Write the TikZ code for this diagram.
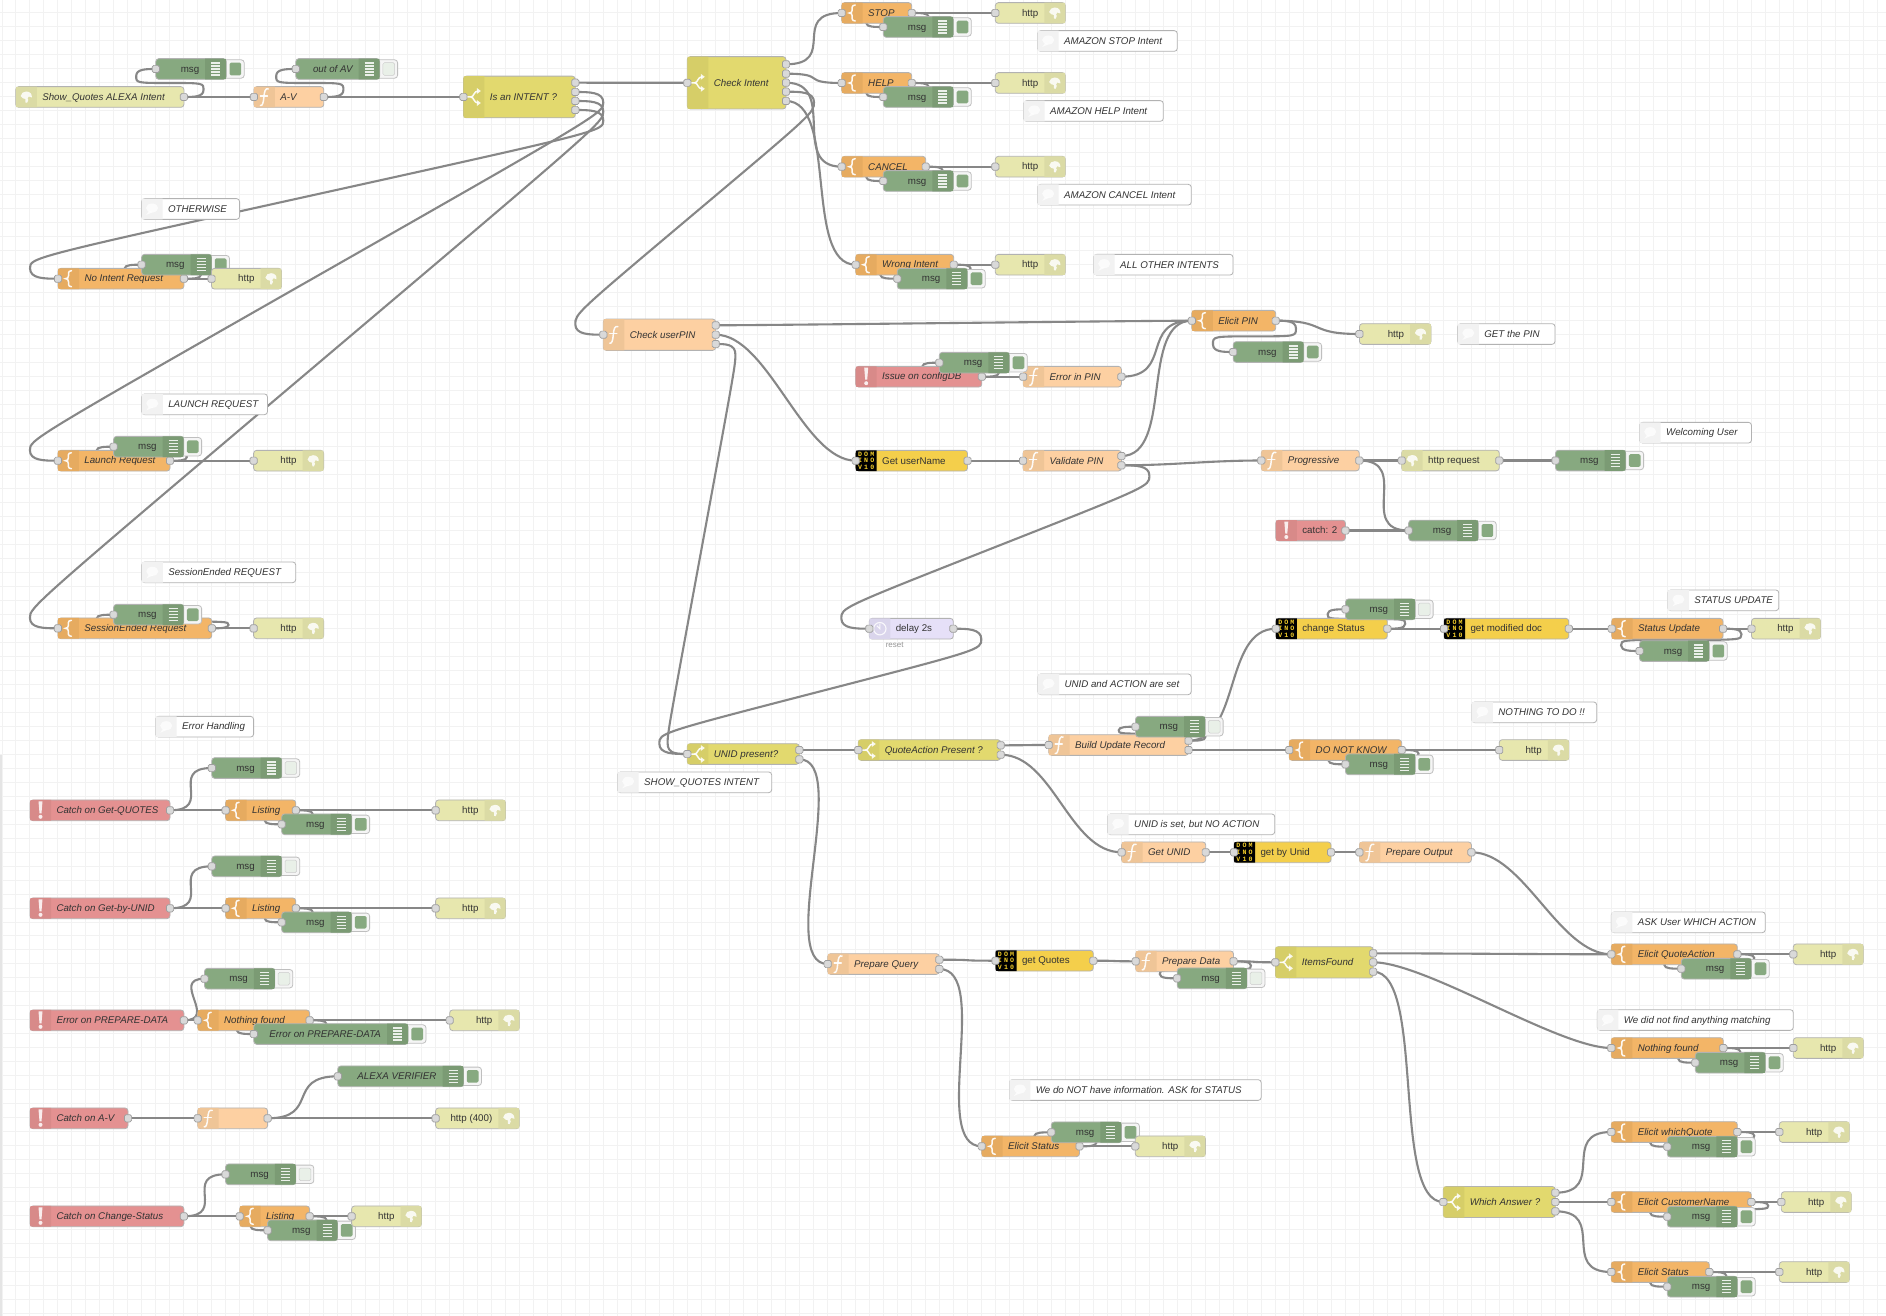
\documentclass[tikz,border=0pt]{standalone}
\usepackage{fontspec}
\setmainfont{Liberation Sans}
\newfontfamily\nrmono{Liberation Mono}
\pgfdeclarelayer{gridl}\pgfdeclarelayer{wirel}\pgfsetlayers{gridl,wirel,main}
\definecolor{cText}{HTML}{333333}
\definecolor{cWire}{HTML}{878787}
\definecolor{cPort}{HTML}{D9D9D9}
\tikzset{
  nrbody/.style={draw=black!30,rounded corners=3pt,line width=.8pt,inner sep=0pt,outer sep=0pt,text=cText,
     font=\fontsize{9.75}{12}\selectfont,anchor=center},
  port/.style={draw=black!38,fill=cPort,rounded corners=1.6pt,line width=.7pt,minimum width=7.2pt,minimum height=7.2pt,inner sep=0pt,outer sep=0pt},
  wire/.style={draw=cWire,line width=2.1pt,line cap=round},
  gridline/.style={draw=black!5,line width=1pt},
  iconline/.style={draw=white,line width=1.5pt,line cap=round,opacity=.92},
  iconfill/.style={fill=white,opacity=.85},
  btnbox/.style={draw=black!25,fill=black!4,rounded corners=3pt,line width=.8pt},
}
\newcommand\setkind[6]{%
  \tikzset{k#1/.style={fill=#2}}%
  \expandafter\def\csname st#1\endcsname{#3}%
  \expandafter\def\csname sd#1\endcsname{#4}%
  \expandafter\def\csname hi#1\endcsname{#5}%
  \expandafter\def\csname bt#1\endcsname{#6}}
\definecolor{fnA}{HTML}{FDD0A2}\definecolor{fnB}{HTML}{EFC597}
\definecolor{tpA}{HTML}{F3B567}\definecolor{tpB}{HTML}{E6AB60}
\definecolor{htA}{HTML}{E7E7AE}\definecolor{htB}{HTML}{DBDBA5}
\definecolor{dbA}{HTML}{87A980}\definecolor{dbB}{HTML}{7B9B74}
\definecolor{swA}{HTML}{E2D96E}\definecolor{swB}{HTML}{D6CE68}
\definecolor{caA}{HTML}{E49191}\definecolor{caB}{HTML}{D88A89}
\definecolor{coA}{HTML}{FFFFFF}\definecolor{coB}{HTML}{F2F2F2}
\definecolor{deA}{HTML}{E6E0F8}\definecolor{deB}{HTML}{DAD5EC}
\definecolor{doA}{HTML}{F4CF4B}\definecolor{doY}{HTML}{F6D02A}
\setkind{fn}{fnA}{fnB}{L}{1}{0}
\setkind{tp}{tpA}{tpB}{L}{1}{0}
\setkind{sw}{swA}{swB}{L}{1}{0}
\setkind{ht}{htA}{htB}{R}{1}{0}
\setkind{hi}{htA}{htB}{L}{0}{0}
\setkind{rq}{htA}{htB}{L}{1}{0}
\setkind{db}{dbA}{dbB}{R}{1}{1}
\setkind{do}{dbA}{dbB}{R}{1}{2}
\setkind{ca}{caA}{caB}{L}{0}{0}
\setkind{no}{coA}{coB}{L}{0}{0}
\setkind{dl}{deA}{deB}{L}{1}{0}
\setkind{dm}{doA}{black}{L}{1}{0}
% ---- icons: x0, x1, cy
\newcommand\icfn[3]{\pgfmathsetmacro\nrc{#1+10.5}%
  \draw[iconline] (\nrc+4,#3-8) .. controls (\nrc+1,#3-9) and (\nrc,#3-6) .. (\nrc-.5,#3) .. controls (\nrc-1,#3+6) and (\nrc-2,#3+9) .. (\nrc-4,#3+8.5);
  \draw[iconline] (\nrc-4,#3-1) -- (\nrc+3,#3-1);}
\newcommand\ictp[3]{\pgfmathsetmacro\nrc{#1+10.5}%
  \draw[iconline] (\nrc+3,#3-8) .. controls (\nrc-1,#3-8) and (\nrc,#3-4) .. (\nrc,#3-3) .. controls (\nrc,#3-1) and (\nrc-1,#3) .. (\nrc-3,#3) .. controls (\nrc-1,#3) and (\nrc,#3+1) .. (\nrc,#3+3) .. controls (\nrc,#3+4) and (\nrc-1,#3+8) .. (\nrc+3,#3+8);}
\newcommand\icsw[3]{\pgfmathsetmacro\nrc{#1+10.5}%
  \draw[iconline] (\nrc-7,#3) -- (\nrc-3,#3) .. controls (\nrc,#3) and (\nrc,#3-6) .. (\nrc+4,#3-6);
  \draw[iconline] (\nrc-3,#3) .. controls (\nrc,#3) and (\nrc,#3+6) .. (\nrc+4,#3+6);
  \fill[iconfill] (\nrc+3,#3-9) -- (\nrc+7,#3-6) -- (\nrc+3,#3-3) -- cycle;
  \fill[iconfill] (\nrc+3,#3+9) -- (\nrc+7,#3+6) -- (\nrc+3,#3+3) -- cycle;}
\newcommand\icca[3]{\pgfmathsetmacro\nrc{#1+10.5}%
  \fill[iconfill] (\nrc-2,#3-9) -- (\nrc+2,#3-9) -- (\nrc+1,#3+3) -- (\nrc-1,#3+3) -- cycle;
  \fill[iconfill] (\nrc,#3+6.5) circle (2);}
\newcommand\icglobe[2]{%
  \fill[iconfill] (#1,#2-5.5) .. controls (#1+4,#2-5.5) and (#1+6,#2-2.5) .. (#1+5.5,#2+.5)
     -- (#1+2.5,#2-.5) -- (#1+1.2,#2+1.5) -- (#1+2,#2+3) -- (#1+.8,#2+5.8) -- (#1-.8,#2+5.5) -- (#1-1,#2+2) -- (#1-3.5,#2+1.2)
     -- (#1-5.6,#2-1) .. controls (#1-5,#2-4) and (#1-3,#2-5.5) .. cycle;}
\newcommand\icht[3]{\pgfmathsetmacro\nrc{#2-10.5}\icglobe{\nrc}{#3}}
\newcommand\ichi[3]{\pgfmathsetmacro\nrc{#1+10.5}\icglobe{\nrc}{#3}}
\newcommand\icrq[3]{\pgfmathsetmacro\nrc{#1+10.5}\icglobe{\nrc}{#3}}
\newcommand\icdb[3]{\pgfmathsetmacro\nrc{#2-10.5}%
  \foreach \nroff in {-6,-3,0,3,6} {\draw[white,line width=1.3pt,opacity=.85] (\nrc-4.5,#3+\nroff) -- (\nrc+4.5,#3+\nroff);}}
\let\icdo\icdb
\newcommand\icno[3]{\pgfmathsetmacro\nrc{#1+10.5}%
  \fill[white,opacity=.75] (\nrc,#3-1) ellipse (6 and 4.5);
  \fill[white,opacity=.75] (\nrc-3,#3+2) -- (\nrc-6,#3+6) -- (\nrc+1,#3+3) -- cycle;}
\newcommand\icdl[3]{\pgfmathsetmacro\nrc{#1+10.5}%
  \draw[white,line width=1.1pt,opacity=.85] (\nrc,#3) circle (6.2);
  \draw[white,line width=1.1pt,opacity=.85] (\nrc-3,#3-3) -- (\nrc,#3) -- (\nrc,#3-5);}
\newcommand\nrdomrow[3]{#1\kern2.1pt #2\kern2.1pt #3}
\newcommand\icdm[3]{\relax}
% ---- the node macro: id, kind, x0, x1, cy, label, height, outputs
\newcommand\NM[8]{%
  \pgfmathsetmacro\nrw{#4-#3}%
  \pgfmathsetmacro\nrcx{(#3+#4)/2}%
  \pgfmathsetmacro\nrtop{#5-#7/2}%
  \pgfmathsetmacro\nrbot{#5+#7/2}%
  \ifnum\csname bt#2\endcsname>0
    \pgfmathsetmacro\nrbr{#4+18}%
    \pgfmathsetmacro\nria{#4+3.3}\pgfmathsetmacro\nrib{#4+15}%
    \draw[btnbox] (#4-6,#5-9.2) rectangle (\nrbr,#5+9.2);
    \ifnum\csname bt#2\endcsname=1
      \fill[fill=dbA,rounded corners=1.5pt] (\nria,#5-6.3) rectangle (\nrib,#5+6.3);
    \else
      \filldraw[fill=dbA!18,draw=black!20,line width=.5pt,rounded corners=1.5pt] (\nria,#5-6.3) rectangle (\nrib,#5+6.3);
    \fi
  \fi
  \node[nrbody,k#2,minimum width=\nrw pt,minimum height=#7 pt,name=#1] at (\nrcx,#5) {%
    \if L\csname sd#2\endcsname
      \hbox to \nrw pt{\hskip26.5pt\rule[-1.6pt]{0pt}{10pt}{#6}\hfil}%
    \else
      \hbox to \nrw pt{\hfil\rule[-1.6pt]{0pt}{10pt}{#6}\hskip27pt}%
    \fi};
  \if L\csname sd#2\endcsname
    \pgfmathsetmacro\nrsx{#3+21}%
    \fill[\csname st#2\endcsname] (\nrsx,\nrtop) -- (#3+3,\nrtop) .. controls (#3,\nrtop) .. (#3,\nrtop+3) -- (#3,\nrbot-3) .. controls (#3,\nrbot) .. (#3+3,\nrbot) -- (\nrsx,\nrbot) -- cycle;
  \else
    \pgfmathsetmacro\nrsx{#4-21}%
    \fill[\csname st#2\endcsname] (\nrsx,\nrtop) -- (#4-3,\nrtop) .. controls (#4,\nrtop) .. (#4,\nrtop+3) -- (#4,\nrbot-3) .. controls (#4,\nrbot) .. (#4-3,\nrbot) -- (\nrsx,\nrbot) -- cycle;
  \fi
  \csname ic#2\endcsname{#3}{#4}{#5}%
  \ifnum\pdfstrcmp{#2}{dm}=0
    \pgfmathsetmacro\nrc{#3+10.5}%
    \node[name=#1-logo,inner sep=0pt,text=doY,font=\nrmono\bfseries\fontsize{6.6}{6.6}\selectfont,align=center] at (\nrc,#5) {\nrdomrow DOM\\\nrdomrow INO\\\nrdomrow V10};
  \fi
  \ifnum\csname hi#2\endcsname=1
    \node[port,name=#1-in] at (#3,#5) {};
    \expandafter\xdef\csname X@#1-in\endcsname{#3}%
    \expandafter\xdef\csname Y@#1-in\endcsname{#5}%
  \fi
  \if\relax\detokenize{#8}\relax\else
    \foreach \nry [count=\nri] in {#8} {%
      \node[port,name=#1-o\nri] at (#4,\nry) {};
      \expandafter\xdef\csname X@#1-o\nri\endcsname{#4}%
      \expandafter\xdef\csname Y@#1-o\nri\endcsname{\nry}%
    }%
  \fi
}
\newcommand\NA[6]{\NM{#1}{#2}{#3}{#4}{#5}{#6}{20.7}{#5}}
\newcommand\NB[6]{\NM{#1}{#2}{#3}{#4}{#5}{#6}{20.7}{}}
\newcommand\ii{\itshape}
% ---- Node-RED's own wire geometry
\newcommand\WW[2]{%
  \edef\wax{\csname X@#1\endcsname}\edef\way{\csname Y@#1\endcsname}%
  \edef\wbx{\csname X@#2\endcsname}\edef\wby{\csname Y@#2\endcsname}%
  \pgfmathsetmacro\wdx{\wbx-\wax}\pgfmathsetmacro\wdy{\wby-\way}%
  \ifdim\wdx pt>0pt
    \pgfmathsetmacro\wdl{veclen(\wdx,\wdy)}%
    \pgfmathsetmacro\ws{\wdl<70 ? .75*\wdl : 52.5}%
    \pgfmathsetmacro\wca{\wax+\ws}\pgfmathsetmacro\wcb{\wbx-\ws}%
    \draw[wire] (#1.center) .. controls (\wca,\way) and (\wcb,\wby) .. (#2.center);
  \else
    \pgfmathsetmacro\wss{70*(.4-.2*max(0,(70-min(abs(\wdx),abs(\wdy)))/70))}%
    \pgfmathsetmacro\wmx{\wbx-\wdx/2}\pgfmathsetmacro\wmy{\wby-\wdy/2}%
    \pgfmathsetmacro\wya{(\wby+\wmy)/2}%
    \pgfmathsetmacro\wtx{\wax+\wss}\pgfmathsetmacro\wbbx{\wbx-\wss}%
    \ifdim\wdy pt>0pt
      \pgfmathsetmacro\wty{min(\wya-\wdy/2,\way+10.5)}%
      \pgfmathsetmacro\wbby{max(\wya,\wby-10.5)}%
      \pgfmathsetmacro\wcay{max(\way,\wty-10.5)}%
      \pgfmathsetmacro\wcby{min(\wmy,\wty+10.5)}%
      \pgfmathsetmacro\wccy{max(\wmy,\wbby-10.5)}%
    \else
      \pgfmathsetmacro\wty{max(\wya-\wdy/2,\way-10.5)}%
      \pgfmathsetmacro\wbby{min(\wya,\wby+10.5)}%
      \pgfmathsetmacro\wcay{min(\way,\wty+10.5)}%
      \pgfmathsetmacro\wcby{max(\wmy,\wty-10.5)}%
      \pgfmathsetmacro\wccy{min(\wmy,\wbby+10.5)}%
    \fi
    \pgfmathsetmacro\wxa{(\wax+\wtx)/2}\pgfmathsetmacro\wxb{(\wbx+\wbbx)/2}%
    \pgfmathsetmacro\wmay{2*\wty-\wcay}%
    \pgfmathsetmacro\wmbx{2*\wmx-\wtx}\pgfmathsetmacro\wmby{2*\wmy-\wcby}%
    \pgfmathsetmacro\wmcy{2*\wbby-\wccy}%
    \draw[wire] (#1.center) .. controls (\wxa,\way) and (\wtx,\wcay) .. (\wtx,\wty)
       .. controls (\wtx,\wmay) and (\wtx,\wcby) .. (\wmx,\wmy)
       .. controls (\wmbx,\wmby) and (\wbbx,\wccy) .. (\wbbx,\wbby)
       .. controls (\wbbx,\wmcy) and (\wxb,\wby) .. (#2.center);
  \fi
}
\begin{document}
\begin{tikzpicture}[x=1pt,y=-1pt]
\useasboundingbox (0,0) rectangle (1886,1316);
\begin{pgfonlayer}{gridl}
  \fill[white] (0,0) rectangle (1886,1316);
  \foreach \gk in {0,...,134} {\pgfmathsetmacro\gx{2+13.994*\gk}\draw[gridline] (\gx,0) -- (\gx,1316);}
  \foreach \gk in {0,...,94} {\pgfmathsetmacro\gy{-1.35+13.99*\gk}\draw[gridline] (0,\gy) -- (1886,\gy);}
  \fill[black!10] (0,755) rectangle (2,1316);
\end{pgfonlayer}
% ---- top left
\NA{sq}{hi}{15.8}{183.9}{97}{\ii Show\_Quotes ALEXA Intent}
\NB{sqm}{db}{155.8}{226.2}{69}{msg}
\NA{av}{fn}{253.9}{323.8}{97}{\ii A-V}
\NB{avm}{do}{295.8}{379.6}{69}{\ii out of AV}
\NM{isi}{sw}{463.4}{575.3}{97}{\ii Is an INTENT ?}{41.7}{82.7,92,101,110}
\NM{ci}{sw}{687.3}{786}{82.8}{\ii Check Intent}{52.3}{64.3,73.7,82.7,91.7,101}
\NB{n1}{no}{141.6}{239.6}{209}{\ii OTHERWISE}
\NA{nir}{tp}{58}{183.9}{278.7}{\ii No Intent Request}
\NB{nirm}{db}{141.6}{211.5}{264.7}{msg}
\NB{nirh}{ht}{211.5}{281.5}{278.7}{http}
\NB{n2}{no}{141.8}{267.5}{404.3}{\ii LAUNCH REQUEST}
\NA{lr}{tp}{57.9}{170}{460.7}{\ii Launch Request}
\NB{lrm}{db}{113.6}{183.6}{446.7}{msg}
\NB{lrh}{ht}{253.6}{323.6}{460.7}{http}
\NB{n3}{no}{141.8}{295.7}{572.3}{\ii SessionEnded REQUEST}
\NA{ser}{tp}{57.9}{211.8}{628.3}{\ii SessionEnded Request}
\NB{serm}{db}{113.6}{183.6}{614.7}{msg}
\NB{serh}{ht}{253.6}{323.6}{628.3}{http}
\NB{n4}{no}{155.7}{253.6}{726.7}{\ii Error Handling}
% ---- intents
\NA{stop}{tp}{841.7}{911.7}{13}{\ii STOP}
\NB{stopm}{db}{883.3}{953.3}{27}{msg}
\NB{stoph}{ht}{995.3}{1065.3}{13}{http}
\NB{n5}{no}{1037.7}{1177.3}{41}{\ii AMAZON STOP Intent}
\NA{help}{tp}{841.7}{911.7}{83}{\ii HELP}
\NB{helpm}{db}{883.3}{953.3}{97}{msg}
\NB{helph}{ht}{995.3}{1065.3}{83}{http}
\NB{n6}{no}{1023.7}{1163.3}{111}{\ii AMAZON HELP Intent}
\NA{canc}{tp}{841.7}{925.7}{166.7}{\ii CANCEL}
\NB{cancm}{db}{883.3}{953.3}{181}{msg}
\NB{canch}{ht}{995.3}{1065.3}{166.7}{http}
\NB{n7}{no}{1037.7}{1191.3}{194.7}{\ii AMAZON CANCEL Intent}
\NA{wi}{tp}{855.7}{953.7}{264.7}{\ii Wrong Intent}
\NB{wim}{db}{897.3}{967.3}{278.7}{msg}
\NB{wih}{ht}{995.3}{1065.3}{264.7}{http}
\NB{n8}{no}{1093.7}{1233}{264.7}{\ii ALL OTHER INTENTS}
% ---- PIN
\NM{cup}{fn}{603.3}{715.7}{334.7}{\ii Check userPIN}{31.3}{325.3,334.7,344}
\NA{ep}{tp}{1191.8}{1275.7}{320.7}{\ii Elicit PIN}
\NB{epm}{db}{1233.2}{1303.6}{352}{msg}
\NB{eph}{ht}{1359.4}{1431}{334}{http}
\NB{n9}{no}{1457.8}{1555}{334}{\ii GET the PIN}
\NA{ic}{ca}{855.7}{981.8}{376.7}{\ii Issue on configDB}
\NA{eip}{fn}{1023.2}{1121.4}{376.7}{\ii Error in PIN}
\NB{icm}{db}{939.3}{1009.3}{362.7}{msg}
\NA{gun}{dm}{855.7}{967.5}{460.7}{Get userName}
\NM{vp}{fn}{1023}{1121.4}{460.7}{\ii Validate PIN}{20.7}{456,465.3}
\NA{pr}{fn}{1261.3}{1359.3}{460.5}{\ii Progressive}
\NA{hrq}{rq}{1401.7}{1499.3}{460.5}{http request}
\NB{hrqm}{db}{1555.5}{1625.6}{460.5}{msg}
\NB{n10}{no}{1639.7}{1751.5}{432.7}{\ii Welcoming User}
\NA{c2}{ca}{1275.8}{1345.4}{530.5}{catch: 2}
\NB{c2m}{db}{1408.6}{1478.2}{530.5}{msg}
\NA{dly}{dl}{869.3}{953.3}{628.7}{delay 2s}
\node[name=dlyst,inner sep=0pt,text=black!42,font=\fontsize{8}{10}\selectfont] at (894.7,645) {reset};
% ---- status
\NA{cs}{dm}{1275.8}{1387.3}{628.7}{change Status}
\NB{csm}{do}{1345.5}{1415.1}{609.3}{msg}
\NA{gmd}{dm}{1444}{1568.8}{628.7}{get modified doc}
\NA{su}{tp}{1611.7}{1723}{628.7}{\ii Status Update}
\NB{sum}{db}{1639.5}{1709.2}{651}{msg}
\NB{suh}{ht}{1751.5}{1820.5}{628.7}{http}
\NB{n11}{no}{1667.9}{1778.8}{600.3}{\ii STATUS UPDATE}
\NB{n12}{no}{1038}{1191.2}{684.3}{\ii UNID and ACTION are set}
\NB{n13}{no}{1471.9}{1596.7}{712.3}{\ii NOTHING TO DO !!}
% ---- UNID
\NM{up}{sw}{687.3}{799.3}{754}{\ii UNID present?}{20.7}{750,759.3}
\NM{qap}{sw}{858.3}{1000.7}{750}{\ii QuoteAction Present ?}{20.7}{745.3,754.7}
\NB{n14}{no}{617.7}{771.7}{782.3}{\ii SHOW\_QUOTES INTENT}
\NM{bur}{fn}{1048.7}{1188.5}{745}{\ii Build Update Record}{20.7}{740.7,750}
\NB{burm}{do}{1135.5}{1205.1}{726.7}{msg}
\NA{dnk}{tp}{1289.2}{1401.7}{750}{\ii DO NOT KNOW}
\NB{dnkm}{db}{1345.5}{1415.1}{764.3}{msg}
\NB{dnkh}{ht}{1499.2}{1568.8}{750}{http}
\NB{n15}{no}{1107.7}{1274.8}{824.3}{\ii UNID is set, but NO ACTION}
\NA{gu}{fn}{1121.6}{1205.7}{852.3}{\ii Get UNID}
\NA{gbu}{dm}{1234}{1331}{852.3}{get by Unid}
\NA{po}{fn}{1359.4}{1471.4}{852.3}{\ii Prepare Output}
% ---- query
\NM{pq}{fn}{827.7}{939.3}{964}{\ii Prepare Query}{20.7}{959.7,969}
\NA{gq}{dm}{995.5}{1093.3}{960.7}{get Quotes}
\NA{pd}{fn}{1135.7}{1233.5}{961.3}{\ii Prepare Data}
\NB{pdm}{do}{1177.2}{1246.9}{978.3}{msg}
\NM{if}{sw}{1275.4}{1373.2}{962.3}{\ii ItemsFound}{31.3}{953.3,962.3,971.7}
\NB{n16}{no}{1009.4}{1261.2}{1090}{\ii We do NOT have information. ASK for STATUS}
\NA{es}{tp}{981.7}{1079.5}{1146.3}{\ii Elicit Status}
\NB{esm}{db}{1051.3}{1121.4}{1132.3}{msg}
\NB{esh}{ht}{1135.3}{1205.4}{1146.3}{http}
% ---- right column
\NB{n17}{no}{1611.3}{1765.3}{922.3}{\ii ASK User WHICH ACTION}
\NA{eqa}{tp}{1611.3}{1737.3}{954.3}{\ii Elicit QuoteAction}
\NB{eqam}{db}{1681.3}{1751.3}{968.7}{msg}
\NB{eqah}{ht}{1793.3}{1863.3}{954.3}{http}
\NB{n18}{no}{1597.3}{1793.3}{1020}{\ii We did not find anything matching}
\NA{nf}{tp}{1611.3}{1723.3}{1048}{\ii Nothing found}
\NB{nfm}{db}{1695.3}{1765.3}{1062.7}{msg}
\NB{nfh}{ht}{1793.3}{1863.3}{1048}{http}
\NA{ewq}{tp}{1611.3}{1737.3}{1132}{\ii Elicit whichQuote}
\NB{ewqm}{db}{1667.3}{1737.3}{1146.7}{msg}
\NB{ewqh}{ht}{1779.3}{1849.3}{1132}{http}
\NM{wa}{sw}{1443.3}{1555.3}{1202}{\ii Which Answer ?}{31}{1192.7,1202,1211.3}
\NA{ecn}{tp}{1611.3}{1751.3}{1202}{\ii Elicit CustomerName}
\NB{ecnm}{db}{1667.3}{1737.3}{1216.7}{msg}
\NB{ecnh}{ht}{1781.3}{1851.3}{1202}{http}
\NA{est}{tp}{1611.3}{1709.3}{1272}{\ii Elicit Status}
\NB{estm}{db}{1667.3}{1737.3}{1286.7}{msg}
\NB{esth}{ht}{1779.3}{1849.3}{1272}{http}
% ---- bottom left
\NB{m1}{do}{211.8}{281.7}{768}{msg}
\NA{cq}{ca}{30}{170}{810.3}{\ii Catch on Get-QUOTES}
\NA{l1}{tp}{225.6}{295.8}{810.3}{\ii Listing}
\NB{l1m}{db}{281.7}{351.6}{824.3}{msg}
\NB{l1h}{ht}{435.6}{505.5}{810.3}{http}
\NB{m2}{do}{211.8}{281.7}{866.3}{msg}
\NA{cu}{ca}{30}{170}{908.3}{\ii Catch on Get-by-UNID}
\NA{l2}{tp}{225.6}{295.8}{908.3}{\ii Listing}
\NB{l2m}{db}{281.7}{351.6}{922.3}{msg}
\NB{l2h}{ht}{435.6}{505.5}{908.3}{http}
\NB{m3}{do}{204.5}{274.8}{978.7}{msg}
\NA{ep2}{ca}{30}{183.9}{1020.3}{\ii Error on PREPARE-DATA}
\NA{nf2}{tp}{197.7}{309.6}{1020.3}{\ii Nothing found}
\NB{ed}{db}{253.8}{408}{1034}{\ii Error on PREPARE-DATA}
\NB{nf2h}{ht}{449.7}{519.3}{1020.3}{http}
\NB{avd}{db}{337.8}{463.5}{1076.3}{\ii ALEXA VERIFIER}
\NA{cav}{ca}{30}{128}{1118.3}{\ii Catch on A-V}
\NA{fx}{fn}{197.7}{267.6}{1118.3}{}
\NB{fxh}{ht}{435.6}{519.3}{1118.3}{http (400)}
\NB{m5}{do}{225.6}{295.8}{1174.3}{msg}
\NA{ccs}{ca}{30}{183.9}{1216.3}{\ii Catch on Change-Status}
\NA{l5}{tp}{239.7}{309.6}{1216.3}{\ii Listing}
\NB{l5m}{db}{267.6}{337.5}{1230.3}{msg}
\NB{l5h}{ht}{351.6}{421.5}{1216.3}{http}
% ---- wires
\begin{pgfonlayer}{wirel}
\WW{sq-o1}{sqm-in}\WW{sq-o1}{av-in}
\WW{av-o1}{avm-in}\WW{av-o1}{isi-in}
\WW{isi-o1}{ci-in}\WW{isi-o2}{lr-in}\WW{isi-o3}{ser-in}\WW{isi-o4}{nir-in}
\WW{nir-o1}{nirm-in}\WW{nir-o1}{nirh-in}
\WW{lr-o1}{lrm-in}\WW{lr-o1}{lrh-in}
\WW{ser-o1}{serm-in}\WW{ser-o1}{serh-in}
\WW{ci-o1}{stop-in}\WW{ci-o2}{help-in}\WW{ci-o3}{canc-in}\WW{ci-o4}{cup-in}\WW{ci-o5}{wi-in}
\WW{stop-o1}{stoph-in}\WW{stop-o1}{stopm-in}
\WW{help-o1}{helph-in}\WW{help-o1}{helpm-in}
\WW{canc-o1}{canch-in}\WW{canc-o1}{cancm-in}
\WW{wi-o1}{wih-in}\WW{wi-o1}{wim-in}
\WW{cup-o1}{ep-in}\WW{cup-o2}{gun-in}\WW{cup-o3}{up-in}
\WW{ic-o1}{icm-in}\WW{ic-o1}{eip-in}\WW{eip-o1}{ep-in}
\WW{gun-o1}{vp-in}\WW{vp-o1}{ep-in}\WW{vp-o2}{pr-in}\WW{vp-o2}{dly-in}
\WW{ep-o1}{eph-in}\WW{ep-o1}{epm-in}
\WW{pr-o1}{hrq-in}\WW{pr-o1}{c2m-in}\WW{hrq-o1}{hrqm-in}\WW{c2-o1}{c2m-in}
\WW{dly-o1}{up-in}
\WW{up-o1}{qap-in}\WW{up-o2}{pq-in}
\WW{qap-o1}{bur-in}\WW{qap-o2}{gu-in}
\WW{bur-o1}{burm-in}\WW{bur-o1}{cs-in}\WW{bur-o2}{dnk-in}
\WW{cs-o1}{csm-in}\WW{cs-o1}{gmd-in}\WW{gmd-o1}{su-in}
\WW{su-o1}{suh-in}\WW{su-o1}{sum-in}
\WW{dnk-o1}{dnkh-in}\WW{dnk-o1}{dnkm-in}
\WW{gu-o1}{gbu-in}\WW{gbu-o1}{po-in}\WW{po-o1}{eqa-in}
\WW{pq-o1}{gq-in}\WW{pq-o2}{es-in}
\WW{gq-o1}{pd-in}\WW{pd-o1}{pdm-in}\WW{pd-o1}{if-in}
\WW{if-o1}{eqa-in}\WW{if-o2}{nf-in}\WW{if-o3}{wa-in}
\WW{es-o1}{esm-in}\WW{es-o1}{esh-in}
\WW{eqa-o1}{eqah-in}\WW{eqa-o1}{eqam-in}
\WW{nf-o1}{nfh-in}\WW{nf-o1}{nfm-in}
\WW{wa-o1}{ewq-in}\WW{wa-o2}{ecn-in}\WW{wa-o3}{est-in}
\WW{ewq-o1}{ewqh-in}\WW{ewq-o1}{ewqm-in}
\WW{ecn-o1}{ecnh-in}\WW{ecn-o1}{ecnm-in}
\WW{est-o1}{esth-in}\WW{est-o1}{estm-in}
\WW{cq-o1}{m1-in}\WW{cq-o1}{l1-in}\WW{l1-o1}{l1h-in}\WW{l1-o1}{l1m-in}
\WW{cu-o1}{m2-in}\WW{cu-o1}{l2-in}\WW{l2-o1}{l2h-in}\WW{l2-o1}{l2m-in}
\WW{ep2-o1}{m3-in}\WW{ep2-o1}{nf2-in}\WW{nf2-o1}{nf2h-in}\WW{nf2-o1}{ed-in}
\WW{cav-o1}{fx-in}\WW{fx-o1}{avd-in}\WW{fx-o1}{fxh-in}
\WW{ccs-o1}{m5-in}\WW{ccs-o1}{l5-in}\WW{l5-o1}{l5h-in}\WW{l5-o1}{l5m-in}
\end{pgfonlayer}
\end{tikzpicture}
\end{document}
